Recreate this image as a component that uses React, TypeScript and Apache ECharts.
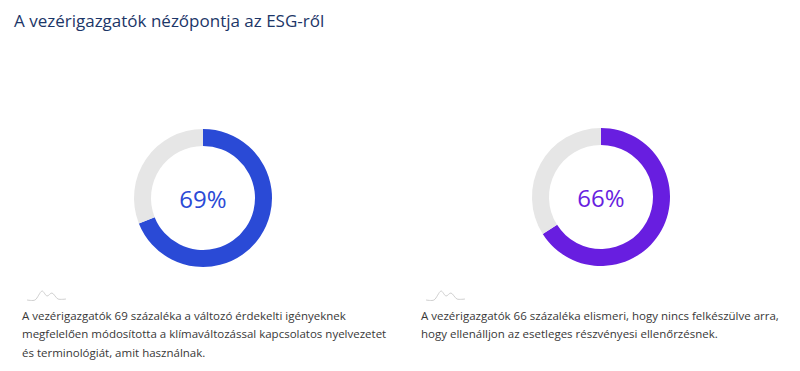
import React, { useEffect, useRef } from "react";
import * as echarts from "echarts";

const titleText = "A vezérigazgatók nézőpontja az ESG-ről";
const values = [69, 66];
const colors = ["#2a4ad6", "#681ee0"];
const restColor = "#e6e6e6";
const centers: [number, number][] = [[203, 198], [601, 197]];
const descriptions: string[][] = [
  [
    "A vezérigazgatók 69 százaléka a változó érdekelti igényeknek",
    "megfelelően módosította a klímaváltozással kapcsolatos nyelvezetet",
    "és terminológiát, amit használnak.",
  ],
  [
    "A vezérigazgatók 66 százaléka elismeri, hogy nincs felkészülve arra,",
    "hogy ellenálljon az esetleges részvényesi ellenőrzésnek.",
  ],
];
const textX = [22, 421];

export default function App() {
  const ref = useRef<HTMLDivElement>(null);
  useEffect(() => {
    if (!ref.current) return;
    const chart = echarts.init(ref.current, undefined, { renderer: "svg" });
    const font = "'Open Sans', 'Noto Sans', sans-serif";
    const series: any[] = values.map((v, i) => ({
      type: "pie",
      center: centers[i],
      radius: [52, 69],
      startAngle: 90,
      clockwise: true,
      silent: true,
      label: { show: false },
      labelLine: { show: false },
      data: [
        {
          value: v,
          itemStyle: { color: colors[i] },
          label: {
            show: true,
            position: "center",
            formatter: "{c}%",
            fontSize: 24,
            fontWeight: "normal",
            fontFamily: font,
            color: colors[i],
          },
        },
        { value: 100 - v, itemStyle: { color: restColor } },
      ],
    }));
    const graphics: any[] = [];
    descriptions.forEach((lines, i) => {
      const x0 = textX[i] + 5;
      graphics.push({
        type: "polyline",
        shape: {
          points: [
            [x0, 300], [x0 + 8, 300], [x0 + 15, 291], [x0 + 20, 296],
            [x0 + 25, 293], [x0 + 31, 299], [x0 + 39, 299],
          ],
          smooth: 0.3,
        },
        style: { stroke: "#d0d0d0", lineWidth: 1, fill: null },
      });
      lines.forEach((line, j) => {
        graphics.push({
          type: "text",
          x: textX[i],
          y: 315 + j * 18.5,
          style: {
            text: line,
            fontSize: 11.5,
            fontFamily: font,
            fill: "#383838",
            verticalAlign: "middle",
          },
        });
      });
    });
    chart.setOption({
      animation: false,
      title: {
        text: titleText,
        left: 9,
        top: 7,
        textStyle: {
          fontSize: 17,
          fontWeight: "normal",
          fontFamily: font,
          color: "#1c3668",
        },
      },
      series,
      graphic: graphics,
    });
    return () => chart.dispose();
  }, []);
  return (
    <div
      ref={ref}
      style={{ position: "absolute", left: 0, top: 0, width: 800, height: 371, background: "#fff" }}
    />
  );
}
